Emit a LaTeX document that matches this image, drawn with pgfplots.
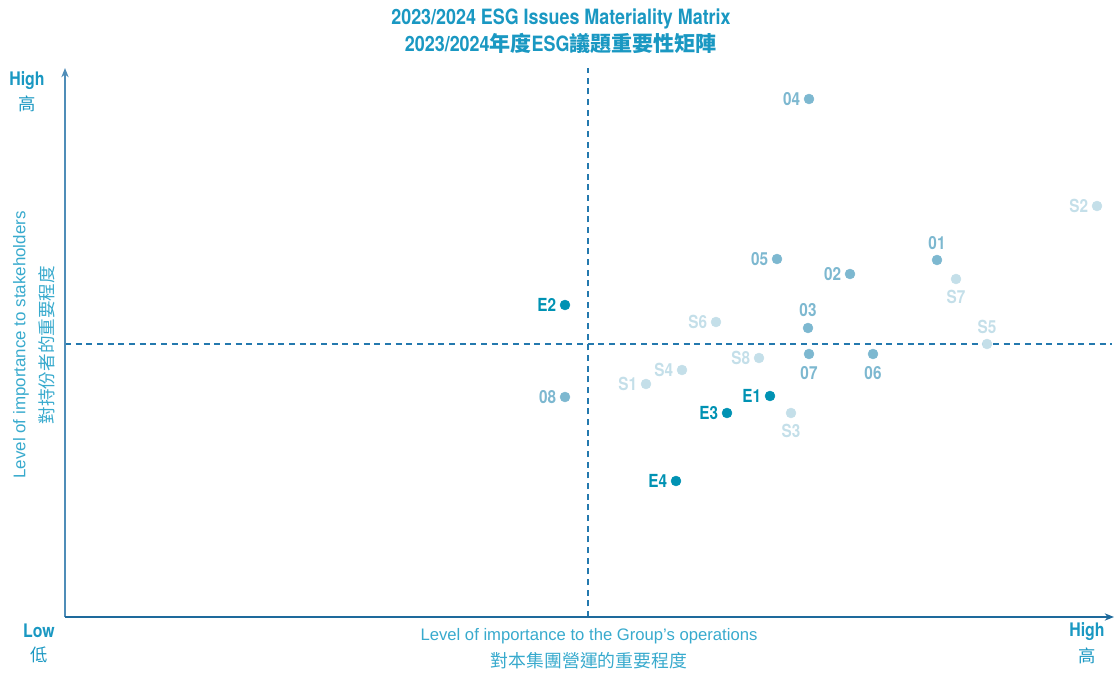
\documentclass[border=0pt]{standalone}
\usepackage{pgfplots}
\pgfplotsset{compat=1.18}
\usepackage{pgfplotstable}
\usetikzlibrary{arrows.meta}
\usepackage{fontspec}
\setmainfont{Liberation Sans}
\newfontfamily\condfont[FakeStretch=0.85]{TeX Gyre Heros}
\newfontfamily\cjk{Noto Sans CJK TC}
\definecolor{titleblue}{HTML}{1A98C2}
\definecolor{darkdot}{HTML}{0092B3}
\definecolor{middot}{HTML}{7DB8D0}
\definecolor{lightdot}{HTML}{C4DFE9}
\definecolor{axisblue}{HTML}{1E6A9C}
\definecolor{yaxisblue}{HTML}{4F8DB8}
\definecolor{dashblue}{HTML}{2479AE}
\definecolor{labelblue}{HTML}{38AACD}

% x = pixel x, y = 672 - pixel y ; anc: 0 = label left of dot, 270 = above, 90 = below
\pgfplotstableread{
x y label anc dx dy
770 276 E1 0 -6.5 0
565 367 E2 0 -6.5 0
727 259 E3 0 -6.5 0
676 191 E4 0 -6.5 0
}\darktab
\pgfplotstableread{
x y label anc dx dy
937 412 01 270 0 7.5
850 398 02 0 -6.5 0
808 344 03 270 0 8.5
809 573 04 0 -6.5 0
777 413 05 0 -6.5 0
873 318 06 90 0 -9
809 318 07 90 0 -9
565 275 08 0 -6.5 0
}\midtab
\pgfplotstableread{
x y label anc dx dy
646 288 S1 0 -6.5 0
1097 466 S2 0 -6.5 0
791 259 S3 90 0 -8.5
682 302 S4 0 -6.5 0
987 328 S5 270 0 7.5
716 350 S6 0 -6.5 0
956 393 S7 90 0 -8.5
759 314 S8 0 -6.5 0
}\lighttab

\pgfplotsset{
  dotstyle/.style={
    only marks, mark=*, mark size=3.7pt,
    mark options={draw=#1, fill=#1},
    nodes near coords,
    point meta=explicit symbolic,
    visualization depends on={\thisrow{anc}\as\myanc},
    visualization depends on={\thisrow{dx}\as\mydx},
    visualization depends on={\thisrow{dy}\as\mydy},
    every node near coord/.append style={
      anchor=\myanc, xshift=\mydx pt, yshift=\mydy pt, inner sep=0pt,
      font=\condfont\bfseries\fontsize{13.5}{14}\selectfont, text=#1},
  }
}

\begin{document}
\begin{tikzpicture}
\path[use as bounding box] (-48.75pt,-41.25pt) rectangle (787.5pt,462.75pt);
\begin{axis}[
  scale only axis,
  width=785.25pt, height=410.25pt,
  xmin=65, xmax=1112, ymin=55, ymax=602,
  axis line style={draw=none},
  xtick=\empty, ytick=\empty,
  clip=false,
]
% quadrant lines
\draw[dashblue, line width=0.9pt, dash pattern=on 4.5pt off 3.5pt] (axis cs:588,55) -- (axis cs:588,604);
\draw[dashblue, line width=0.9pt, dash pattern=on 4.5pt off 3.5pt] (axis cs:65,328) -- (axis cs:1112,328);
% axes with arrows
\draw[yaxisblue, line width=1pt, -{Stealth[length=7pt,width=5.5pt]}] (axis cs:65,55) -- (axis cs:65,604);
\draw[axisblue, line width=1pt, -{Stealth[length=7pt,width=5.5pt]}] (axis cs:65,55) -- (axis cs:1114,55);

\addplot[dotstyle=lightdot] table[x=x, y=y, meta=label] {\lighttab};
\addplot[dotstyle=middot] table[x=x, y=y, meta=label] {\midtab};
\addplot[dotstyle=darkdot] table[x=x, y=y, meta=label] {\darktab};

% titles
\node[text=titleblue, font=\condfont\bfseries\fontsize{15.8}{17}\selectfont] at (axis cs:561,653) {2023/2024 ESG Issues Materiality Matrix};
\node[text=titleblue, font=\fontsize{15.8}{17}\selectfont] at (axis cs:561,629) {{\condfont\bfseries 2023/2024}{\cjk\bfseries 年度}{\condfont\bfseries ESG}{\cjk\bfseries 議題重要性矩陣}};

% High / Low labels
\node[text=titleblue, font=\condfont\bfseries\fontsize{14}{15}\selectfont] at (axis cs:27,591) {High};
\node[text=titleblue, font=\cjk\fontsize{13}{14}\selectfont] at (axis cs:27,568) {高};
\node[text=titleblue, font=\condfont\bfseries\fontsize{14}{15}\selectfont] at (axis cs:39,41) {Low};
\node[text=titleblue, font=\cjk\fontsize{13}{14}\selectfont] at (axis cs:39,17) {低};
\node[text=titleblue, font=\condfont\bfseries\fontsize{14}{15}\selectfont] at (axis cs:1087,40) {High};
\node[text=titleblue, font=\cjk\fontsize{13}{14}\selectfont] at (axis cs:1087,16) {高};

% axis titles
\node[text=labelblue, font=\fontsize{12.5}{14}\selectfont] at (axis cs:589,36) {Level of importance to the Group's operations};
\node[text=labelblue, font=\cjk\fontsize{13.4}{15}\selectfont] at (axis cs:589,11) {對本集團營運的重要程度};
\node[text=labelblue, rotate=90, font=\fontsize{12.7}{14}\selectfont] at (axis cs:21,327) {Level of importance to stakeholders};
\node[text=labelblue, rotate=90, font=\cjk\fontsize{13.2}{15}\selectfont] at (axis cs:47,327) {對持份者的重要程度};
\end{axis}
\end{tikzpicture}
\end{document}
